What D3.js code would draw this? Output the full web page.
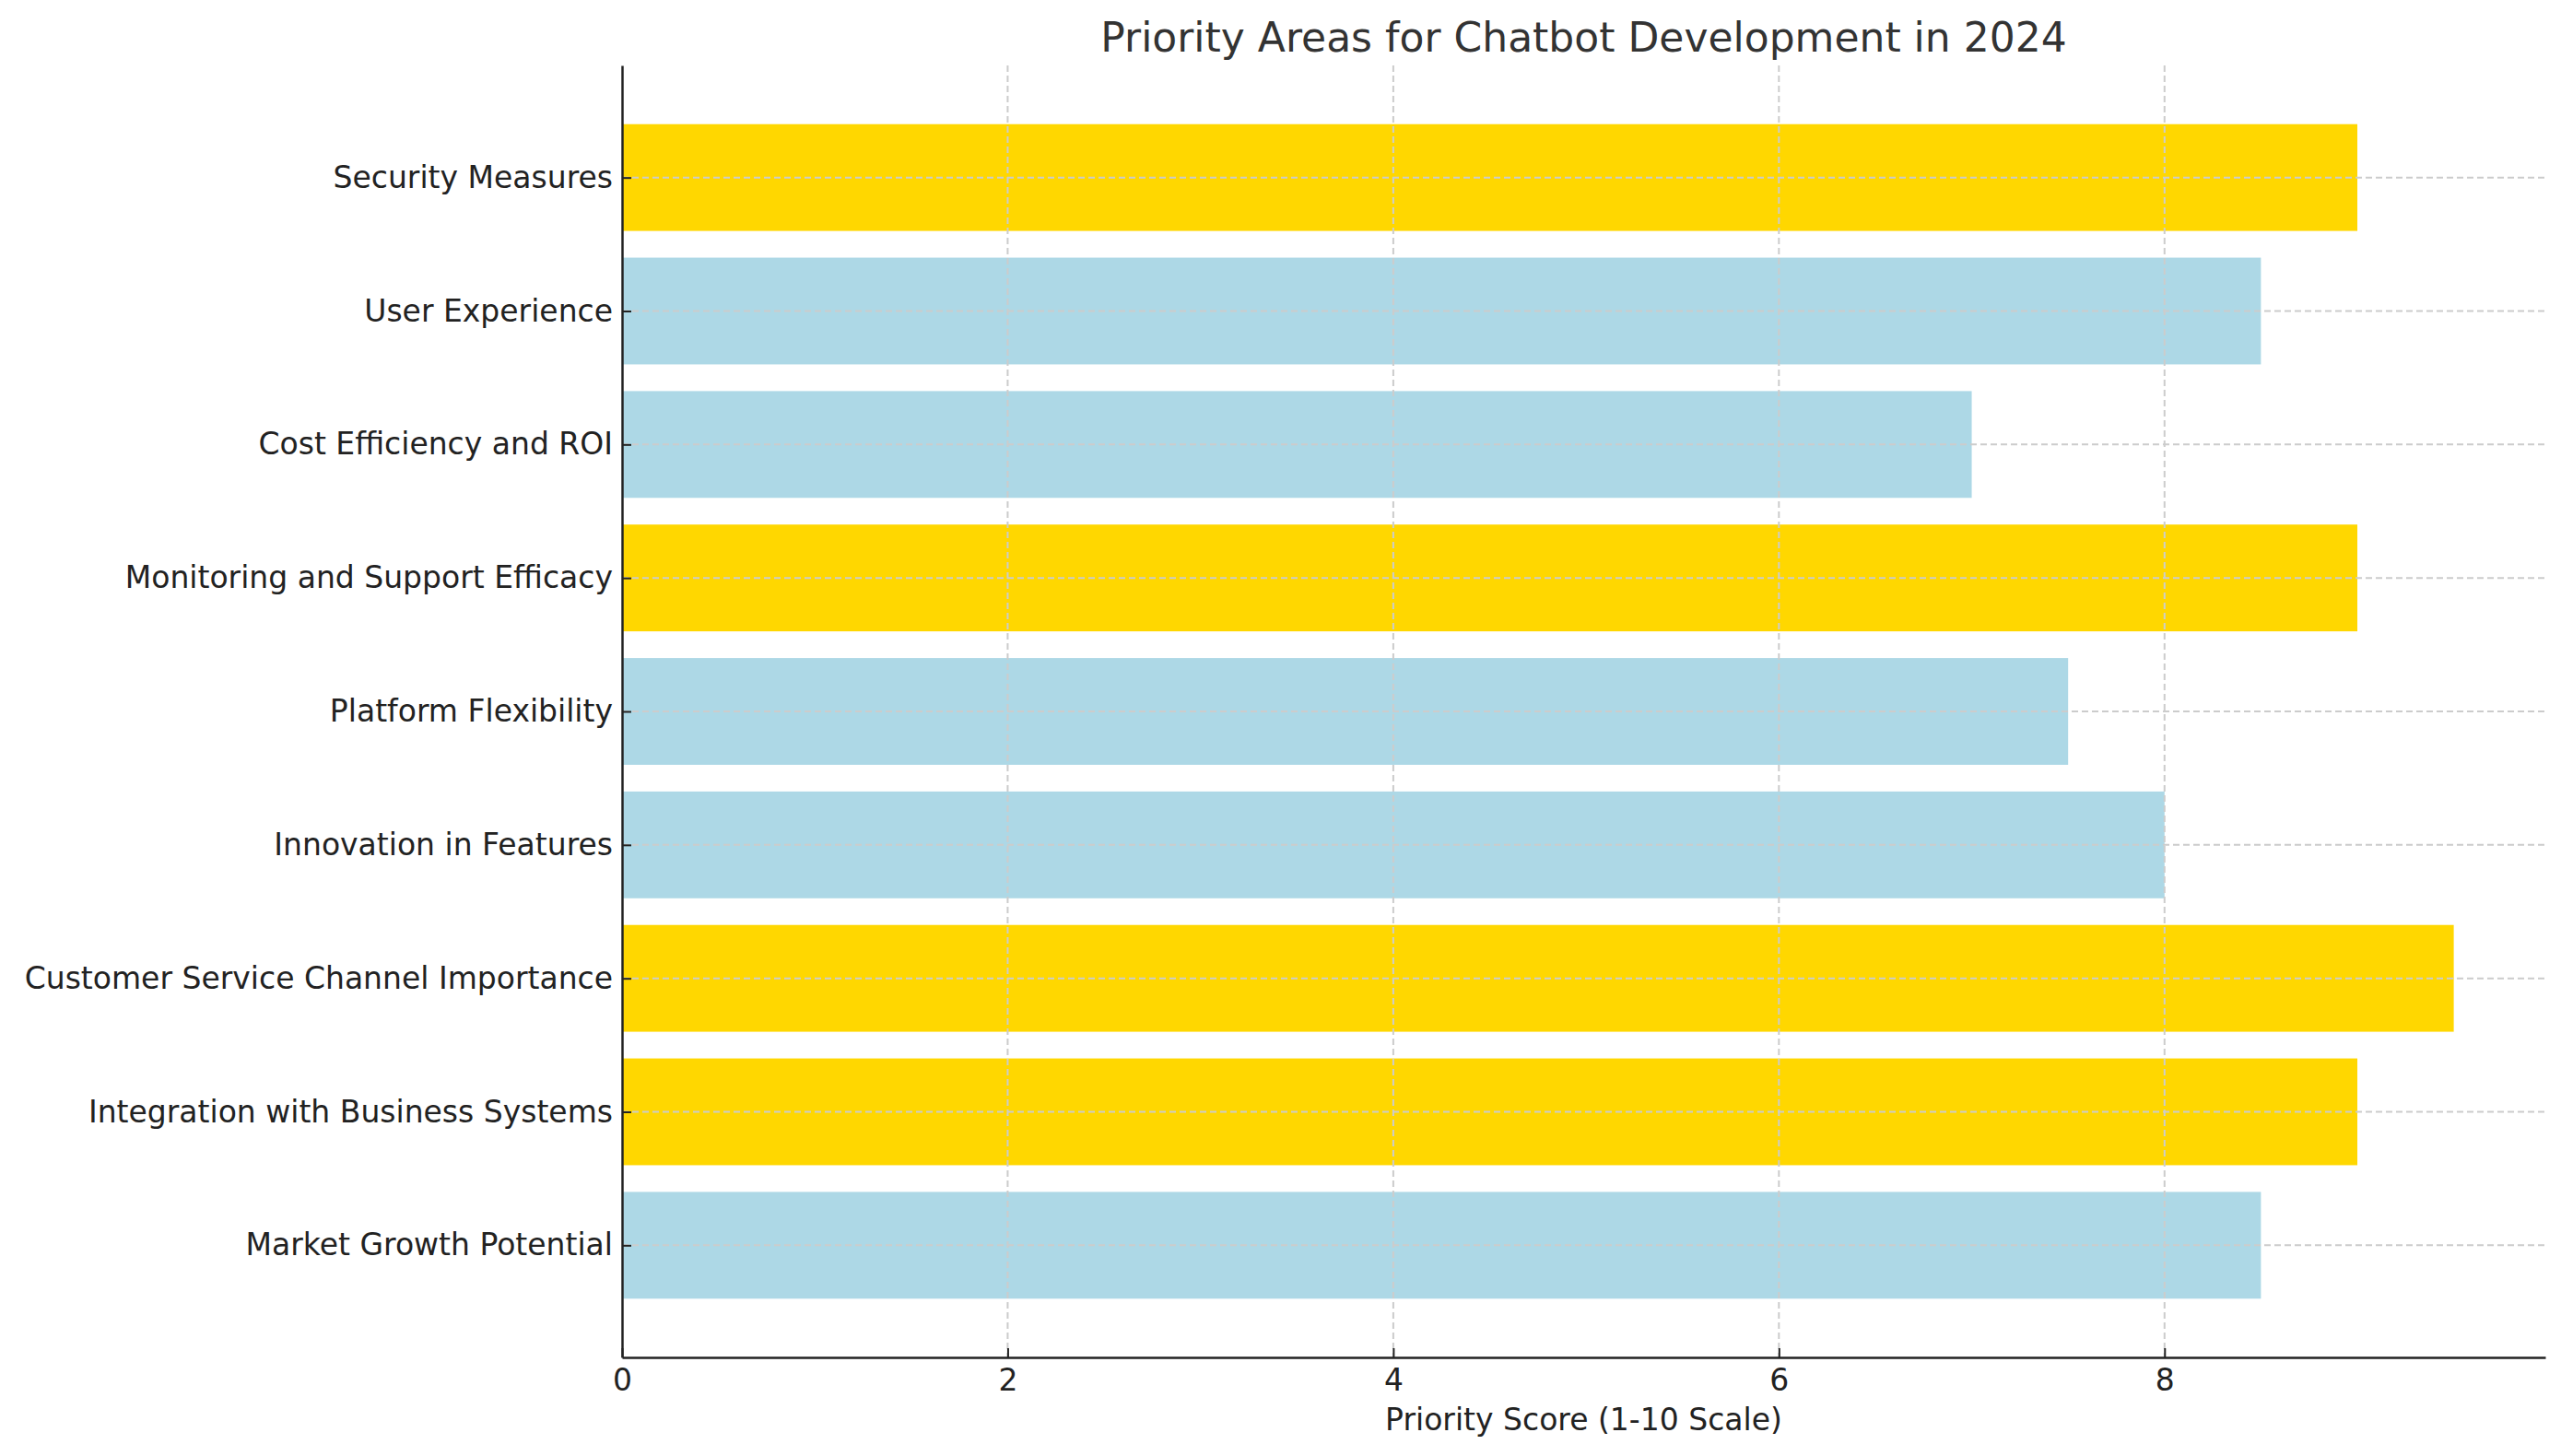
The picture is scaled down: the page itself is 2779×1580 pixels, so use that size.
<!DOCTYPE html>
<html>
<head>
<meta charset="utf-8">
<script src="https://cdn.jsdelivr.net/npm/d3@7"></script>
<style>
  html, body { margin: 0; padding: 0; background: #fff; }
  svg { display: block; font-family: "DejaVu Sans", sans-serif; }
</style>
</head>
<body>
<div id="chart"></div>
<script>
// data, bottom to top as in the picture
var categories = [
    "Market Growth Potential",
    "Integration with Business Systems",
    "Customer Service Channel Importance",
    "Innovation in Features",
    "Platform Flexibility",
    "Monitoring and Support Efficacy",
    "Cost Efficiency and ROI",
    "User Experience",
    "Security Measures"
];
var scores = [8.5, 9, 9.5, 8, 7.5, 9, 7, 8.5, 9];
var xTicks = [0, 2, 4, 6, 8];

var width = 2779, height = 1580;
var margin = { left: 675, right: 17, top: 71, bottom: 107 };

var svg = d3.select("#chart").append("svg")
    .attr("width", width)
    .attr("height", height);

var x = d3.scaleLinear()
    .domain([0, d3.max(scores) * 1.05])
    .range([margin.left, width - margin.right]);

var y = d3.scaleLinear()
    .domain([-0.84, categories.length - 1 + 0.84])
    .range([height - margin.bottom, margin.top]);

var barHeight = y(0) - y(0.8);

// bars
svg.append("g").selectAll("rect")
    .data(scores)
    .join("rect")
    .attr("x", x(0))
    .attr("y", (d, i) => y(i + 0.4))
    .attr("width", d => x(d) - x(0))
    .attr("height", barHeight)
    .attr("fill", d => d >= 9 ? "#FFD700" : "#ADD8E6");

// grid on top of bars
var grid = svg.append("g")
    .attr("stroke", "#cccccc")
    .attr("stroke-width", 2)
    .attr("stroke-dasharray", "7,4");

grid.selectAll("line.v")
    .data(xTicks.filter(d => d > 0))
    .join("line")
    .attr("class", "v")
    .attr("x1", d => x(d)).attr("x2", d => x(d))
    .attr("y1", margin.top).attr("y2", height - margin.bottom);

grid.selectAll("line.h")
    .data(categories)
    .join("line")
    .attr("class", "h")
    .attr("x1", x(0)).attr("x2", width - margin.right)
    .attr("y1", (d, i) => y(i)).attr("y2", (d, i) => y(i));

// axes, ticks pointing inward
var xAxis = d3.axisBottom(x)
    .tickValues(xTicks)
    .tickFormat(d3.format("d"))
    .tickSizeInner(-10)
    .tickSizeOuter(0)
    .tickPadding(12);

var gx = svg.append("g")
    .attr("transform", "translate(0," + (height - margin.bottom) + ")")
    .call(xAxis);

var yAxis = d3.axisLeft(y)
    .tickValues(d3.range(categories.length))
    .tickFormat(i => categories[i])
    .tickSizeInner(-10)
    .tickSizeOuter(0)
    .tickPadding(10);

var gy = svg.append("g")
    .attr("transform", "translate(" + margin.left + ",0)")
    .call(yAxis);

[gx, gy].forEach(function(g) {
    g.select(".domain").attr("stroke", "#222").attr("stroke-width", 2.5);
    g.selectAll(".tick line").attr("stroke", "#222").attr("stroke-width", 2);
    g.selectAll(".tick text")
        .attr("fill", "#222")
        .style("font-size", "33px")
        .style("font-family", "DejaVu Sans, sans-serif");
});
gx.selectAll(".tick text").attr("dy", "0.72em");

// titles
svg.append("text")
    .attr("x", (margin.left + width - margin.right) / 2)
    .attr("y", 56)
    .attr("text-anchor", "middle")
    .attr("fill", "#333")
    .style("font-size", "44px")
    .text("Priority Areas for Chatbot Development in 2024");

svg.append("text")
    .attr("x", (margin.left + width - margin.right) / 2)
    .attr("y", 1552)
    .attr("text-anchor", "middle")
    .attr("fill", "#222")
    .style("font-size", "33px")
    .text("Priority Score (1-10 Scale)");
</script>
</body>
</html>
